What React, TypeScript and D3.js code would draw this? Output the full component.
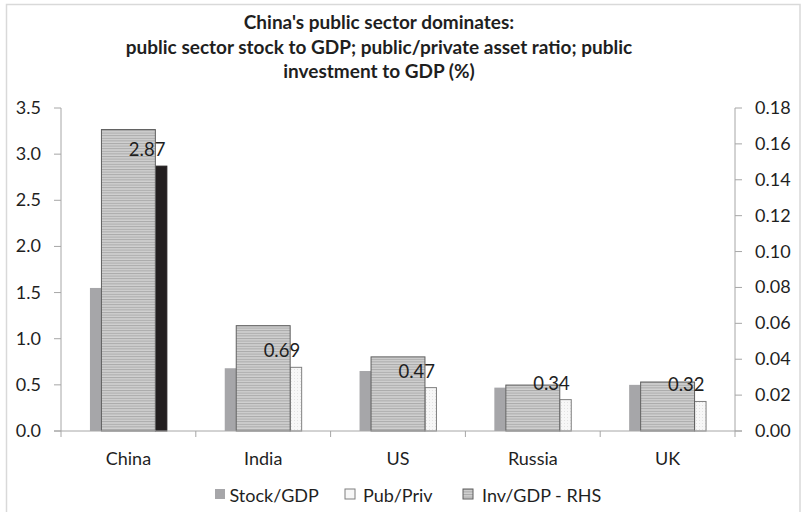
import React from "react";
import * as d3 from "d3";

const categories = ["China", "India", "US", "Russia", "UK"];
const stockGdp = [1.55, 0.68, 0.65, 0.47, 0.5];
const pubPriv = [2.87, 0.69, 0.47, 0.34, 0.32];
const invGdp = [0.168, 0.0587, 0.0413, 0.0256, 0.0273];
const leftTicks = [0, 0.5, 1, 1.5, 2, 2.5, 3, 3.5];
const rightTicks = [0, 0.02, 0.04, 0.06, 0.08, 0.1, 0.12, 0.14, 0.16, 0.18];
const titleLines = [
  "China's public sector dominates:",
  "public sector stock to GDP; public/private asset ratio; public",
  "investment to GDP (%)",
];
const legendItems = ["Stock/GDP", "Pub/Priv", "Inv/GDP - RHS"];

const W = 802;
const H = 512;
const plotL = 61;
const plotR = 735;
const plotT = 108;
const plotB = 431;
const FONT = "Lato, 'Open Sans', sans-serif";
const AXIS = "#a6a6a6";
const TXT = "#1f1f1f";

export default function App() {
  const x = d3.scaleBand<string>().domain(categories).range([plotL, plotR]).padding(0);
  const yL = d3.scaleLinear().domain([0, 3.5]).range([plotB, plotT]);
  const yR = d3.scaleLinear().domain([0, 0.18]).range([plotB, plotT]);
  const bw = x.bandwidth();
  const narrow = bw * 0.0853;
  const wide = bw * 0.4;

  const legendX = [215, 345, 463];
  const legendTextX = [229.5, 363, 482];

  return (
    <svg
      width={W}
      height={H}
      style={{ position: "absolute", left: 0, top: 0, background: "#fff" }}
      fontFamily={FONT}
    >
      <defs>
        <pattern id="hstripe" patternUnits="userSpaceOnUse" width="4" height="2.6">
          <rect width="4" height="2.6" fill="#d0d0d0" />
          <rect width="4" height="1" fill="#a9a9a9" />
        </pattern>
        <pattern id="dots" patternUnits="userSpaceOnUse" width="3" height="3">
          <rect width="3" height="3" fill="#f7f7f7" />
          <rect width="1" height="1" fill="#e2e2e2" />
        </pattern>
      </defs>
      <rect x={6.5} y={4.5} width={793.5} height={520} fill="#fff" stroke="#d9d9d9" strokeWidth={1.5} />

      {titleLines.map((t, i) => (
        <text
          key={i}
          x={379}
          y={29 + i * 24.5}
          textAnchor="middle"
          fontWeight="bold"
          fontSize={19}
          fill={TXT}
        >
          {t}
        </text>
      ))}

      {/* left axis */}
      <line x1={plotL} x2={plotL} y1={plotT} y2={plotB} stroke={AXIS} />
      {leftTicks.map((t) => (
        <g key={"l" + t}>
          <line x1={plotL - 7} x2={plotL} y1={yL(t)} y2={yL(t)} stroke={AXIS} />
          <text x={41} y={yL(t) + 6} textAnchor="end" fontSize={18} fill={TXT}>
            {t.toFixed(1)}
          </text>
        </g>
      ))}
      {/* right axis */}
      <line x1={plotR} x2={plotR} y1={plotT} y2={plotB} stroke={AXIS} />
      {rightTicks.map((t) => (
        <g key={"r" + t}>
          <line x1={plotR} x2={plotR + 7} y1={yR(t)} y2={yR(t)} stroke={AXIS} />
          <text x={755} y={yR(t) + 6} textAnchor="start" fontSize={18} fill={TXT}>
            {t.toFixed(2)}
          </text>
        </g>
      ))}

      {/* bars */}
      {categories.map((c, i) => {
        const cx = (x(c) as number) + bw / 2;
        const sx = cx - wide / 2 - narrow;
        const px = cx + wide / 2;
        const ix = cx - wide / 2;
        return (
          <g key={c}>
            <rect x={sx} y={yL(stockGdp[i])} width={narrow} height={plotB - yL(stockGdp[i])} fill="#a6a6a9" />
            <rect
              x={px}
              y={yL(pubPriv[i])}
              width={narrow}
              height={plotB - yL(pubPriv[i])}
              fill={i === 0 ? "#231f20" : "url(#dots)"}
              stroke={i === 0 ? "#231f20" : "#7f7f7f"}
              strokeWidth={1}
            />
            <rect
              x={ix}
              y={yR(invGdp[i])}
              width={wide}
              height={plotB - yR(invGdp[i])}
              fill="url(#hstripe)"
              stroke="#5f5f5f"
              strokeWidth={1}
            />
            <text
              x={px + narrow / 2 - 14}
              y={yL(pubPriv[i]) - 10}
              textAnchor="middle"
              fontSize={18.5}
              fill={TXT}
            >
              {pubPriv[i].toFixed(2)}
            </text>
            <text x={cx} y={465} textAnchor="middle" fontSize={18} fill={TXT}>
              {c}
            </text>
          </g>
        );
      })}

      {/* baseline and category ticks */}
      <line x1={plotL - 7} x2={plotR + 7} y1={plotB} y2={plotB} stroke={AXIS} />
      {categories.concat(["end"]).map((c, i) => {
        const xx = plotL + i * bw;
        return <line key={"t" + i} x1={xx} x2={xx} y1={plotB} y2={plotB + 6} stroke={AXIS} />;
      })}

      {/* legend */}
      {legendItems.map((l, i) => (
        <g key={l}>
          <rect
            x={legendX[i]}
            y={489}
            width={10}
            height={10}
            fill={i === 0 ? "#a6a6a9" : i === 1 ? "#f7f7f7" : "url(#hstripe)"}
            stroke={i === 0 ? "none" : i === 1 ? "#7f7f7f" : "#5f5f5f"}
          />
          <text x={legendTextX[i]} y={502} fontSize={18} fill={TXT}>
            {l}
          </text>
        </g>
      ))}
    </svg>
  );
}
